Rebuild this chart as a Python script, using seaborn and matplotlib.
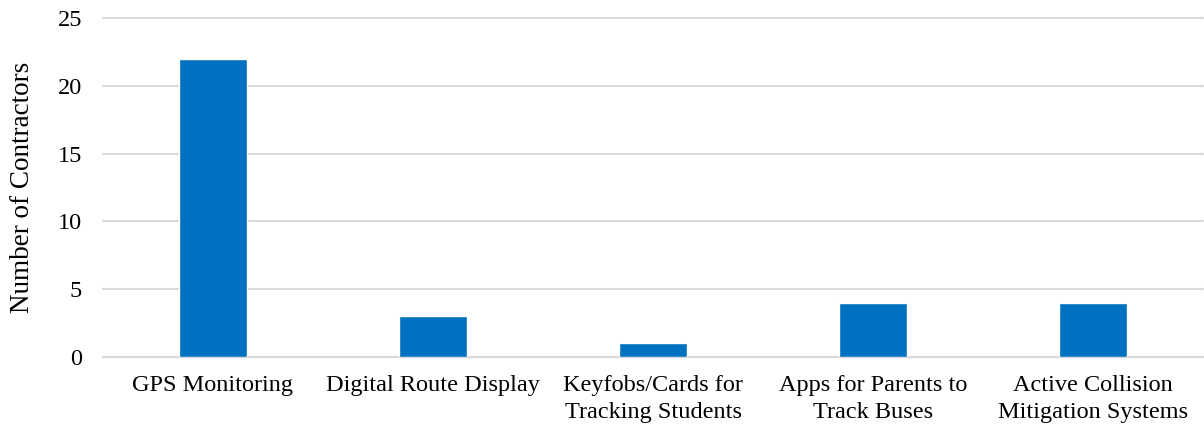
import matplotlib
matplotlib.use("Agg")
import matplotlib.pyplot as plt
import seaborn as sns
import pandas as pd

categories = ["GPS Monitoring", "Digital Route Display", "Keyfobs/Cards for\nTracking Students",
              "Apps for Parents to\nTrack Buses", "Active Collision\nMitigation Systems"]
values = [22, 3, 1, 4, 4]
yticks = [0, 5, 10, 15, 20, 25]

sns.set_theme(style="white")
plt.rcParams['font.family'] = ['Liberation Serif', 'DejaVu Serif']

df = pd.DataFrame({"cat": categories, "val": values})
fig = plt.figure(figsize=(12.04, 4.28), dpi=100)
ax = fig.add_axes([0.0855, 0.166, 0.914, 0.792])
sns.barplot(data=df, x="cat", y="val", color="#0070C0", width=0.31, saturation=1, ax=ax, zorder=3)
ax.set_ylim(0, 25)
ax.set_yticks(yticks)
ax.set_xlim(-0.5, 4.5)
ax.yaxis.grid(True, color="#D9D9D9", linewidth=1.5, zorder=0)
ax.set_axisbelow(True)
for gl in ax.get_ygridlines():
    gl.set_clip_on(False)
for s in ["top", "right", "left"]:
    ax.spines[s].set_visible(False)
ax.spines["bottom"].set_color("#D9D9D9")
ax.spines["bottom"].set_linewidth(1.5)
ax.tick_params(axis="both", length=0, labelsize=17.5, colors="black")
ax.tick_params(axis="y", pad=15)
ax.tick_params(axis="x", pad=13)
ax.set_xlabel("")
ax.set_ylabel("Number of Contractors", fontsize=19.5, labelpad=16, color="black")
for lab in ax.get_xticklabels():
    lab.set_linespacing(1.35)
fig.savefig("out.png", dpi=100)
